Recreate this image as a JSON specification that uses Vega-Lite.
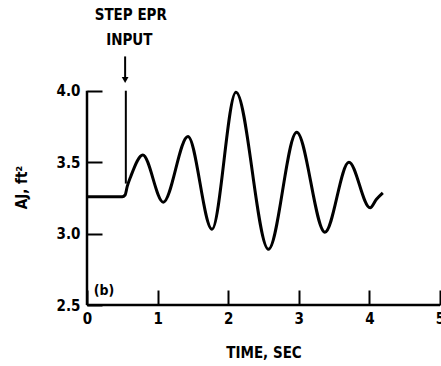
{
  "$schema": "https://vega.github.io/schema/vega-lite/v6.json",
  "width": 353,
  "height": 300,
  "autosize": {"type": "none"},
  "padding": {"left": 87, "top": 5, "right": 1, "bottom": 61},
  "background": "white",
  "config": {
    "view": {"stroke": null},
    "font": "DejaVu Sans Condensed",
    "axis": {"grid": false, "domain": false, "labelFont": "DejaVu Sans Condensed", "labelFontWeight": "bold", "labelFontSize": 15, "labelColor": "black", "titleFont": "DejaVu Sans Condensed", "titleFontWeight": "bold", "titleFontSize": 15, "titleColor": "black", "tickColor": "black", "tickWidth": 2}
  },
  "datasets": {
    "curve": [
      {"t": 0.0, "v": 3.257},
      {"t": 0.3, "v": 3.257},
      {"t": 0.5, "v": 3.258},
      {"t": 0.54, "v": 3.27},
      {"t": 0.57, "v": 3.33},
      {"t": 0.62, "v": 3.4},
      {"t": 0.79, "v": 3.55},
      {"t": 1.08, "v": 3.22},
      {"t": 1.43, "v": 3.68},
      {"t": 1.77, "v": 3.03},
      {"t": 2.11, "v": 3.99},
      {"t": 2.57, "v": 2.89},
      {"t": 2.97, "v": 3.71},
      {"t": 3.37, "v": 3.01},
      {"t": 3.71, "v": 3.5},
      {"t": 4.01, "v": 3.18},
      {"t": 4.1, "v": 3.24},
      {"t": 4.19, "v": 3.285}
    ],
    "axes": [
      {"x": 0, "y": 2.5, "x2": 5, "y2": 2.5},
      {"x": 0, "y": 2.5, "x2": 0, "y2": 4.0}
    ],
    "marker": [
      {"x": 0.55, "y": 4.0, "x2": 0.55, "y2": 3.35}
    ],
    "arrow": [
      {"x": 0.54, "y": 4.24, "y2": 4.075}
    ],
    "labels": [
      {"x": 0.62, "y": 4.53, "text": "STEP EPR", "size": 15},
      {"x": 0.6, "y": 4.355, "text": "INPUT", "size": 15},
      {"x": 0.24, "y": 2.6, "text": "(b)", "size": 14}
    ]
  },
  "layer": [
    {
      "data": {"name": "curve"},
      "mark": {"type": "line", "color": "black", "strokeWidth": 3, "interpolate": "monotone"},
      "encoding": {
        "x": {"field": "t", "type": "quantitative", "scale": {"domain": [0, 5], "nice": false},
          "axis": {"title": "TIME, SEC", "values": [0, 1, 2, 3, 4, 5], "format": "d", "tickSize": -15, "labelPadding": 21, "titleY": 40, "labelFlush": false}},
        "y": {"field": "v", "type": "quantitative", "scale": {"domain": [2.5, 4.6], "nice": false, "zero": false},
          "axis": {"title": "AJ, ft²", "values": [2.5, 3.0, 3.5, 4.0], "format": ".1f", "tickSize": -15, "labelPadding": 22, "titleX": -58, "titleY": 182}}
      }
    },
    {
      "data": {"name": "axes"},
      "mark": {"type": "rule", "color": "black", "strokeWidth": 2.5},
      "encoding": {
        "x": {"field": "x", "type": "quantitative"},
        "y": {"field": "y", "type": "quantitative"},
        "x2": {"field": "x2"},
        "y2": {"field": "y2"}
      }
    },
    {
      "data": {"name": "marker"},
      "mark": {"type": "rule", "color": "black", "strokeWidth": 2},
      "encoding": {
        "x": {"field": "x", "type": "quantitative"},
        "y": {"field": "y", "type": "quantitative"},
        "x2": {"field": "x2"},
        "y2": {"field": "y2"}
      }
    },
    {
      "data": {"name": "arrow"},
      "mark": {"type": "rule", "color": "black", "strokeWidth": 2},
      "encoding": {
        "x": {"field": "x", "type": "quantitative"},
        "y": {"field": "y", "type": "quantitative"},
        "y2": {"field": "y2"}
      }
    },
    {
      "data": {"name": "arrow"},
      "mark": {"type": "point", "shape": "triangle-down", "filled": true, "color": "black", "size": 45, "opacity": 1},
      "encoding": {
        "x": {"field": "x", "type": "quantitative"},
        "y": {"field": "y2", "type": "quantitative"}
      }
    },
    {
      "data": {"name": "labels"},
      "mark": {"type": "text", "color": "black", "fontWeight": "bold", "font": "DejaVu Sans Condensed"},
      "encoding": {
        "x": {"field": "x", "type": "quantitative"},
        "y": {"field": "y", "type": "quantitative"},
        "text": {"field": "text"},
        "size": {"field": "size", "type": "quantitative", "scale": null}
      }
    }
  ]
}
